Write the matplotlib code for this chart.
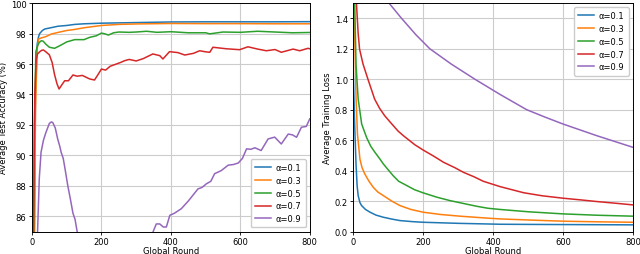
import matplotlib
matplotlib.use("Agg")
import matplotlib.pyplot as plt

labels = ["α=0.1", "α=0.3", "α=0.5", "α=0.7", "α=0.9"]
colors = ["#1f77b4", "#ff7f0e", "#2ca02c", "#d62728", "#9467bd"]

# ---- Test accuracy (left) ----
acc01_x = [0, 5, 10, 15, 19, 22, 30, 37, 50, 75, 100, 123, 150, 200, 250, 300, 400, 500, 600, 700, 800]
acc01_y = [60, 80, 94, 97.3, 97.8, 98.0, 98.2, 98.3, 98.36, 98.48, 98.53, 98.6, 98.64, 98.68, 98.7, 98.72, 98.76, 98.77, 98.77, 98.77, 98.78]

acc03_x = [0, 5, 10, 15, 19, 25, 40, 56, 80, 100, 123, 150, 200, 250, 300, 400, 500, 600, 700, 800]
acc03_y = [60, 78, 93, 97.0, 97.64, 97.7, 97.8, 97.97, 98.1, 98.2, 98.27, 98.38, 98.53, 98.6, 98.63, 98.66, 98.65, 98.65, 98.64, 98.64]

acc05_x = [0, 3, 7, 11, 16, 21, 27, 32, 40, 50, 65, 80, 100, 123, 150, 166, 185, 200, 210, 220, 235, 250, 280, 300,
           330, 360, 400, 450, 500, 512, 550, 600, 650, 700, 750, 800]
acc05_y = [60, 80, 92, 96.8, 97.2, 97.42, 97.53, 97.5, 97.3, 97.1, 97.03, 97.2, 97.45, 97.6, 97.6, 97.75, 97.85, 98.03, 97.98,
           97.9, 98.05, 98.1, 98.08, 98.1, 98.15, 98.08, 98.12, 98.05, 98.05, 97.98, 98.1, 98.08, 98.15, 98.1, 98.05, 98.07]

acc07_x = [0, 4, 8, 12, 16, 22, 28, 33, 40, 50, 58, 65, 72, 78, 85, 94, 105, 118, 130, 145, 166, 180, 190, 200, 212, 225,
           243, 255, 267, 280, 300, 320, 348, 368, 377, 396, 420, 440, 465, 483, 500, 512, 521, 560, 598, 622, 650, 675,
           700, 718, 752, 771, 795, 800]
acc07_y = [50, 84, 94, 96.3, 96.66, 96.8, 96.9, 96.92, 96.8, 96.6, 96.1, 95.3, 94.7, 94.36, 94.6, 94.9, 94.9, 95.28, 95.2,
           95.25, 95.02, 94.95, 95.3, 95.67, 95.6, 95.85, 96.0, 96.1, 96.22, 96.3, 96.2, 96.35, 96.66, 96.55, 96.33, 96.81,
           96.75, 96.59, 96.7, 96.87, 96.8, 96.77, 97.1, 97.0, 96.94, 97.13, 96.98, 96.87, 96.95, 96.77, 96.98, 96.87, 97.03, 97.0]

acc09_x = [0, 16, 21, 26, 33, 40, 50, 56, 60, 67, 74, 80, 84, 90, 96, 103, 110, 118, 124, 130, 150, 200, 250, 300, 340,
           349, 358, 368, 378, 387, 397, 410, 430, 450, 478, 490, 502, 515, 526, 545, 565, 580, 594, 606, 618, 630, 642,
           660, 680, 699, 718, 738, 750, 762, 776, 790, 800]
acc09_y = [20, 85, 88.5, 90.2, 91.0, 91.5, 92.1, 92.2, 92.15, 91.8, 91.08, 90.6, 90.2, 89.8, 89.0, 88.02, 87.2, 86.2, 85.8,
           85.0, 83.5, 80, 79, 81.5, 84.5, 85.0, 85.5, 85.5, 85.3, 85.3, 86.07, 86.2, 86.5, 87.0, 87.8, 87.9, 88.13, 88.3,
           88.8, 89.0, 89.36, 89.4, 89.5, 89.8, 90.43, 90.4, 90.5, 90.32, 91.08, 91.2, 90.75, 91.4, 91.35, 91.19, 91.85,
           91.9, 92.4]

# ---- Training loss (right) ----
loss01_x = [0, 4, 8, 11, 14, 19, 24, 35, 48, 65, 86, 110, 134, 170, 200, 300, 420, 500, 600, 700, 800]
loss01_y = [1.05, 0.7, 0.433, 0.3, 0.236, 0.19, 0.17, 0.145, 0.127, 0.108, 0.094, 0.082, 0.072, 0.065, 0.061, 0.054,
            0.048, 0.047, 0.046, 0.045, 0.044]

loss03_x = [0, 4, 8, 12, 19, 25, 33, 45, 57, 70, 86, 110, 134, 165, 200, 250, 305, 385, 420, 500, 600, 700, 800]
loss03_y = [1.6, 1.3, 0.87, 0.64, 0.476, 0.42, 0.378, 0.33, 0.291, 0.26, 0.236, 0.2, 0.17, 0.145, 0.127, 0.112, 0.101,
            0.088, 0.083, 0.076, 0.068, 0.064, 0.061]

loss05_x = [0, 4, 8, 14, 24, 38, 50, 62, 75, 86, 100, 114, 130, 153, 175, 200, 240, 277, 320, 353, 385, 420, 500, 600, 700, 800]
loss05_y = [1.8, 1.5, 1.09, 0.87, 0.706, 0.618, 0.56, 0.52, 0.48, 0.444, 0.405, 0.367, 0.33, 0.302, 0.275, 0.254, 0.225,
            0.203, 0.182, 0.166, 0.153, 0.145, 0.13, 0.116, 0.107, 0.101]

loss07_x = [0, 5, 9, 14, 18, 28, 42, 61, 75, 90, 105, 128, 143, 176, 200, 230, 258, 290, 315, 345, 372, 420, 487, 540,
            600, 650, 697, 750, 800]
loss07_y = [2.0, 1.7, 1.5, 1.3, 1.197, 1.099, 1.0, 0.87, 0.81, 0.76, 0.72, 0.66, 0.63, 0.57, 0.535, 0.495, 0.455, 0.42,
            0.389, 0.36, 0.33, 0.295, 0.255, 0.235, 0.219, 0.208, 0.197, 0.186, 0.175]

loss09_x = [0, 30, 60, 95, 138, 180, 219, 280, 348, 420, 496, 550, 600, 697, 800]
loss09_y = [2.4, 2.0, 1.72, 1.52, 1.4, 1.29, 1.2, 1.1, 1.0, 0.9, 0.8, 0.75, 0.706, 0.629, 0.553]

acc_x = [acc01_x, acc03_x, acc05_x, acc07_x, acc09_x]
acc_y = [acc01_y, acc03_y, acc05_y, acc07_y, acc09_y]
loss_x = [loss01_x, loss03_x, loss05_x, loss07_x, loss09_x]
loss_y = [loss01_y, loss03_y, loss05_y, loss07_y, loss09_y]

acc_yticks = [86, 88, 90, 92, 94, 96, 98, 100]
loss_yticks = [0.0, 0.2, 0.4, 0.6, 0.8, 1.0, 1.2, 1.4]
xticks = [0, 200, 400, 600, 800]

fs = 6
fig = plt.figure(figsize=(6.4, 2.55), dpi=100)
ax1 = fig.add_axes([0.05, 0.088, 0.434, 0.896])
ax2 = fig.add_axes([0.552, 0.088, 0.437, 0.896])

for xs, ys, c, l in zip(acc_x, acc_y, colors, labels):
    ax1.plot(xs, ys, color=c, label=l, linewidth=1.1)
for xs, ys, c, l in zip(loss_x, loss_y, colors, labels):
    ax2.plot(xs, ys, color=c, label=l, linewidth=1.1)

ax1.set_xlim(0, 800)
ax1.set_ylim(85, 100)
ax1.set_yticks(acc_yticks)
ax1.set_ylabel("Average Test Accuracy (%)", fontsize=fs, labelpad=2)
ax2.set_xlim(0, 800)
ax2.set_ylim(0, 1.5)
ax2.set_yticks(loss_yticks)
ax2.set_ylabel("Average Training Loss", fontsize=fs, labelpad=2)

for ax in (ax1, ax2):
    ax.set_xticks(xticks)
    ax.set_xlabel("Global Round", fontsize=fs, labelpad=0)
    ax.tick_params(labelsize=fs, length=2.5, width=0.6, pad=1.5)
    ax.grid(True, color="#cccccc", linewidth=0.8)
    for s in ax.spines.values():
        s.set_linewidth(0.7)

leg_kw = dict(fontsize=fs, handlelength=1.9, handletextpad=0.6, borderpad=0.5, labelspacing=0.45, framealpha=1)
ax1.legend(loc="lower right", **leg_kw)
ax2.legend(loc="upper right", **leg_kw)

fig.savefig("out.png", dpi=100)
